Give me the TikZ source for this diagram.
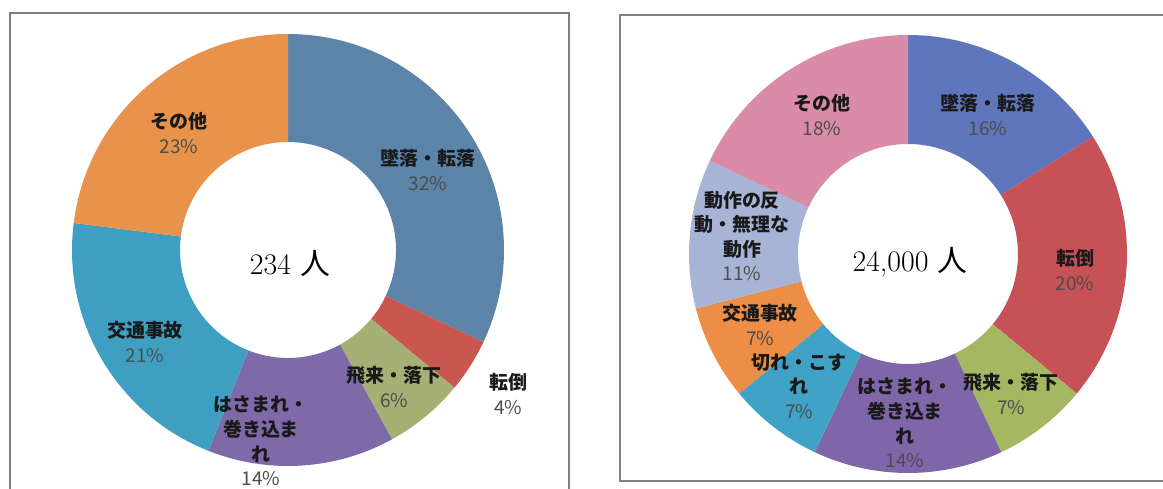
\documentclass[tikz,border=0pt]{standalone}
\usepackage{fontspec}
\usepackage{xcolor}
\usepackage{tikz}
\usetikzlibrary{positioning}
\newfontfamily\jpfont{Noto Sans CJK JP}

% slice colours, left chart
\definecolor{fallL}{HTML}{5C83A8}
\definecolor{tripL}{HTML}{C9564F}
\definecolor{dropL}{HTML}{A6B074}
\definecolor{pinchL}{HTML}{7F69A8}
\definecolor{trafficL}{HTML}{3E9FC2}
\definecolor{otherL}{HTML}{E8924B}
% slice colours, right chart
\definecolor{fallR}{HTML}{5F75BC}
\definecolor{tripR}{HTML}{C65157}
\definecolor{dropR}{HTML}{A4B862}
\definecolor{pinchR}{HTML}{7E66A8}
\definecolor{cutR}{HTML}{40A2C6}
\definecolor{trafficR}{HTML}{EC8E46}
\definecolor{motionR}{HTML}{A8B4D6}
\definecolor{otherR}{HTML}{D98BA8}

\begin{document}
\begin{tikzpicture}[x=0.02cm, y=0.02cm,
  lab/.style={font=\jpfont\bfseries\fontsize{10.8}{14}\selectfont, align=center, text=black!90},
  total/.style={font=\fontsize{17}{20}\selectfont},
  frame/.style={draw=black!50, line width=1.1pt}]

\useasboundingbox (0,0) rectangle (1163,488);

% Frames
\draw[frame] (10,-5) -- (10,475) -- (569,475) -- (569,-5);
\draw[frame] (1170,7) -- (620,7) -- (620,473) -- (1170,473);

% Left chart: 234 people
\foreach \a/\b/\c in {90/-25.2/fallL, -25.2/-39.6/tripL, -39.6/-61.2/dropL,
    -61.2/-111.6/pinchL, -111.6/-187.2/trafficL, -187.2/-270/otherL}
  \fill[\c] (288,238) ++(\a:216) arc[start angle=\a, end angle=\b, radius=216]
    -- ++({\b+180}:108) arc[start angle=\b, end angle=\a, radius=108] -- cycle;

\node[total] (totL) at (290,225) {234 {\jpfont 人}};
\node[lab] (fallLab) at (428,318) {墜落・転落\\{\mdseries\color{black!70}32\%}};
\node[lab] (tripLab) at (508,94) {転倒\\{\mdseries\color{black!70}4\%}};
\node[lab] (dropLab) at (394,101) {飛来・落下\\{\mdseries\color{black!70}6\%}};
\node[lab] (pinchLab) at (261,47) {はさまれ・\\巻き込ま\\れ\\{\mdseries\color{black!70}14\%}};
\node[lab] (trafficLab) at (145,146) {交通事故\\{\mdseries\color{black!70}21\%}};
\node[lab] (otherLab) at (179,355) {その他\\{\mdseries\color{black!70}23\%}};

% Right chart: 24,000 people
\foreach \a/\b/\c in {90/32.4/fallR, 32.4/-39.6/tripR, -39.6/-64.8/dropR,
    -64.8/-115.2/pinchR, -115.2/-140.4/cutR, -140.4/-165.6/trafficR,
    -165.6/-205.2/motionR, -205.2/-270/otherR}
  \fill[\c] (908,234) ++(\a:219) arc[start angle=\a, end angle=\b, radius=219]
    -- ++({\b+180}:109) arc[start angle=\b, end angle=\a, radius=110] -- cycle;

\node[total] (totR) at (910,226) {24,000 {\jpfont 人}};
\node[lab] (fallRab) at (988,373) {墜落・転落\\{\mdseries\color{black!70}16\%}};
\node[lab] (tripRab) at (1075,218) {転倒\\{\mdseries\color{black!70}20\%}};
\node[lab] (dropRab) at (1011,94) {飛来・落下\\{\mdseries\color{black!70}7\%}};
\node[lab] (pinchRab) at (905,65) {はさまれ・\\巻き込ま\\れ\\{\mdseries\color{black!70}14\%}};
\node[lab] (cutRab) at (799,102) {切れ・こす\\れ\\{\mdseries\color{black!70}7\%}};
\node[lab] (trafficRab) at (760,163) {交通事故\\{\mdseries\color{black!70}7\%}};
\node[lab] (motionRab) at (742,252) {動作の反\\動・無理な\\動作\\{\mdseries\color{black!70}11\%}};
\node[lab] (otherRab) at (822,373) {その他\\{\mdseries\color{black!70}18\%}};

\end{tikzpicture}
\end{document}
